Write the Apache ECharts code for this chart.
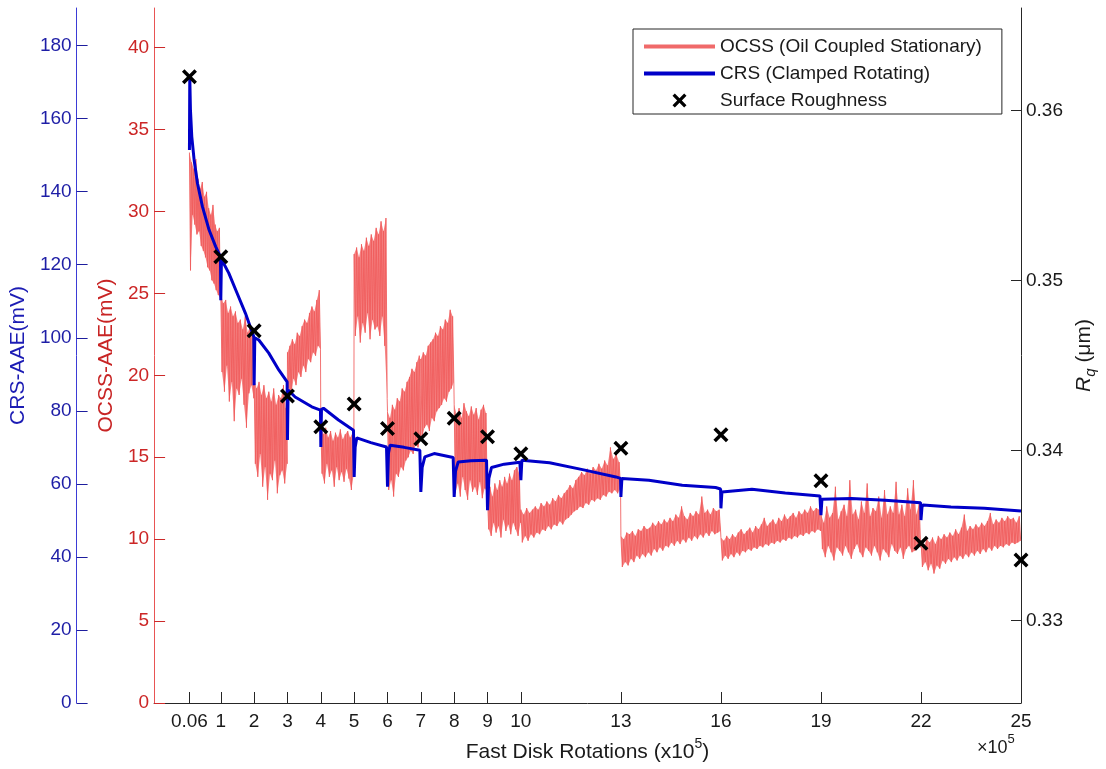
<!DOCTYPE html>
<html>
<head>
<meta charset="utf-8">
<script src="https://cdn.jsdelivr.net/npm/echarts@6/dist/echarts.min.js"></script>
<style>
  html, body { margin: 0; padding: 0; background: #fff; }
  #chart { width: 1106px; height: 769px; }
</style>
</head>
<body>
<div id="chart"></div>
<script>
// ---------- DATA ----------
const xTickValues = [0.06, 1, 2, 3, 4, 5, 6, 7, 8, 9, 10, 13, 16, 19, 22, 25];
const xTickLabels = ['0.06', '1', '2', '3', '4', '5', '6', '7', '8', '9', '10', '13', '16', '19', '22', '25'];
const crsTicks = [0, 20, 40, 60, 80, 100, 120, 140, 160, 180];
const ocssTicks = [0, 5, 10, 15, 20, 25, 30, 35, 40];
const rqTicks = [0.33, 0.34, 0.35, 0.36];

// Surface roughness Rq (um) at each measurement point
const rqX = [0.06, 1, 2, 3, 4, 5, 6, 7, 8, 9, 10, 13, 16, 19, 22, 25];
const rqY = [0.3620, 0.35141, 0.34706, 0.34322, 0.34141, 0.34274, 0.34131, 0.34071, 0.34191, 0.34082, 0.33982, 0.34014, 0.34094, 0.33824, 0.33455, 0.33357];

// CRS (clamped rotating) AAE, mV : [rotations x1e5, value]
const crsX = [0.06, 0.07, 0.09, 0.13, 0.2, 0.3, 0.45, 0.65, 0.85, 0.99,
  1.0, 1.02, 1.24, 1.49, 1.74, 1.99,
  2.0, 2.02, 2.14, 2.44, 2.74, 2.99,
  3.0, 3.02, 3.23, 3.73, 3.99,
  4.0, 4.02, 4.08, 4.53, 4.98,
  5.0, 5.03, 5.08, 5.5, 5.97,
  6.0, 6.03, 6.08, 6.5, 6.97,
  7.0, 7.04, 7.12, 7.4, 7.97,
  8.0, 8.04, 8.12, 8.5, 8.97,
  9.0, 9.04, 9.12, 9.5, 9.97,
  10.0, 10.03, 10.08, 10.86, 11.85, 12.85, 12.99,
  13.0, 13.03, 13.05, 13.84, 14.84, 15.84, 15.99,
  16.0, 16.03, 16.07, 16.93, 17.93, 18.97,
  19.0, 19.03, 19.08, 19.92, 20.92, 21.99,
  22.0, 22.03, 22.06, 22.9, 23.9, 25.0];
const crsY = [151.4, 171.4, 162.4, 155.1, 148.7, 142.3, 135.9, 129.5, 124.9, 122.2,
  110.3, 121.5, 117.7, 112.2, 106.7, 100.3,
  87.0, 100.0, 99.4, 95.8, 91.2, 87.9,
  72.0, 85.7, 83.8, 81.1, 80.2,
  70.1, 80.4, 80.7, 77.5, 74.7,
  61.9, 70.0, 72.6, 71.3, 70.1,
  59.2, 68.5, 70.6, 70.0, 69.2,
  57.8, 64.5, 67.4, 68.3, 67.2,
  56.4, 63.5, 66.0, 66.3, 66.5,
  52.8, 61.5, 64.5, 65.4, 65.9,
  61.0, 66.5, 67.0, 65.8, 63.9, 61.9, 61.5,
  56.4, 61.5, 61.8, 61.0, 59.6, 59.0, 58.6,
  53.3, 57.8, 58.3, 58.5, 57.5, 56.7,
  51.4, 55.8, 56.3, 56.0, 55.5, 54.8,
  50.1, 53.6, 54.2, 53.7, 53.3, 52.6];

// OCSS (oil coupled stationary) AAE, mV : noisy samples per test block (upper / lower excursions)
const ocssStart = [0.06, 1, 2, 3, 4, 5, 6, 7, 8, 9, 10, 13, 16, 19, 22];
const ocssEnd   = [0.99, 1.99, 2.99, 3.99, 4.99, 5.99, 6.99, 7.99, 8.99, 9.99, 12.99, 15.99, 18.99, 21.99, 24.99];
const ocssHi = [
  [33.6, 33.0, 32.6, 33.2, 32.0, 31.4, 31.8, 30.9, 31.2, 30.2, 29.8, 30.4, 29.2, 28.8, 29.0],
  [25.0, 24.4, 24.6, 23.8, 24.2, 23.6, 23.9, 23.2, 23.4, 22.8, 23.6, 22.6, 23.0, 22.4],
  [19.8, 19.2, 19.6, 18.8, 19.4, 18.6, 19.0, 18.4, 19.2, 18.2, 18.8, 18.6, 19.4, 18.0],
  [21.4, 21.8, 22.2, 21.9, 22.6, 22.4, 23.0, 23.4, 23.2, 23.8, 24.2, 23.9, 24.6, 25.2],
  [17.0, 16.4, 16.8, 16.2, 16.6, 16.0, 16.5, 16.2, 16.7, 16.1, 16.4, 16.6, 16.2, 16.5],
  [27.4, 27.8, 27.2, 28.0, 27.6, 28.4, 27.9, 28.6, 28.2, 29.0, 28.6, 29.4, 28.8, 29.6],
  [17.8, 17.4, 18.2, 17.9, 18.6, 18.4, 19.2, 19.0, 19.6, 19.9, 20.4, 20.2, 20.8, 21.2],
  [21.0, 21.4, 21.2, 21.8, 22.0, 22.2, 22.6, 22.4, 23.0, 22.8, 23.4, 23.2, 24.0, 23.6],
  [18.2, 17.6, 18.0, 17.4, 18.3, 17.8, 17.5, 18.1, 17.6, 18.0, 17.3, 17.9, 18.2, 17.7],
  [12.8, 13.2, 12.6, 13.4, 13.0, 13.6, 13.2, 13.8, 13.4, 14.0, 13.6, 14.2, 14.4, 14.0],
  [11.8, 11.5, 11.9, 11.6, 11.8, 12.0, 11.8, 12.2, 12.0, 12.3, 12.1, 12.5, 12.3, 12.7, 12.5, 12.8, 13.0, 13.3, 13.1, 13.6,
   13.8, 14.1, 13.9, 14.3, 14.0, 14.4, 14.2, 14.6, 14.3, 14.8, 14.5, 15.6, 14.9, 15.2, 14.7],
  [10.2, 10.0, 10.4, 10.3, 10.5, 10.2, 10.6, 10.5, 10.8, 10.6, 10.7, 11.0, 10.8, 11.1, 10.9, 11.2, 11.0, 11.3, 11.1, 11.5,
   11.3, 12.0, 11.4, 11.2, 11.6, 11.4, 11.7, 11.5, 12.6, 11.6, 11.8, 11.5, 11.9, 11.7, 11.8],
  [10.1, 9.9, 10.2, 10.0, 10.3, 10.1, 10.4, 10.6, 10.3, 10.5, 10.7, 10.4, 10.8, 10.6, 10.9, 11.3, 10.8, 11.0, 11.2, 10.9,
   11.3, 11.1, 11.5, 11.2, 11.4, 11.6, 11.3, 11.7, 11.5, 11.8, 11.6, 12.0, 11.7, 11.9, 11.8],
  [11.5, 11.0, 12.0, 11.3, 11.6, 13.2, 11.2, 11.7, 12.1, 11.4, 13.6, 11.5, 11.8, 11.2, 12.3, 11.6, 13.4, 11.4, 11.9, 11.7,
   12.6, 11.3, 13.0, 11.5, 12.0, 11.6, 13.5, 11.5, 12.1, 11.4, 13.1, 11.8, 13.6, 11.5, 12.2],
  [9.9, 9.6, 10.0, 9.8, 10.1, 9.7, 10.2, 10.0, 10.3, 10.1, 10.4, 10.2, 10.6, 10.3, 10.7, 11.5, 10.5, 10.8, 10.6, 10.9,
   10.7, 11.0, 10.8, 11.1, 11.6, 10.9, 11.2, 11.0, 11.3, 11.1, 11.4, 11.2, 11.3, 11.0, 11.4]
];
const ocssLo = [
  [26.4, 29.8, 29.2, 28.6, 28.8, 27.9, 27.6, 27.2, 26.6, 26.4, 25.8, 25.6, 25.2, 24.9, 24.7],
  [20.2, 19.0, 20.6, 18.4, 19.6, 17.2, 19.2, 18.8, 19.8, 18.2, 16.8, 18.9, 19.4, 18.6],
  [14.6, 13.8, 15.2, 13.2, 14.4, 12.4, 14.0, 13.6, 14.8, 12.8, 13.9, 14.2, 13.4, 14.6],
  [19.2, 18.8, 19.8, 19.4, 20.2, 19.9, 20.6, 20.2, 21.0, 20.8, 21.4, 21.2, 21.8, 21.6],
  [14.0, 13.4, 14.6, 13.8, 14.2, 13.2, 14.4, 13.6, 14.1, 13.5, 14.3, 13.7, 13.0, 14.0],
  [22.4, 23.6, 22.0, 23.2, 22.6, 23.8, 22.2, 23.4, 22.8, 23.0, 22.4, 23.6, 21.8, 18.6],
  [13.0, 13.6, 12.6, 14.0, 13.8, 14.4, 14.2, 14.8, 15.0, 15.4, 15.2, 15.8, 15.6, 16.2],
  [16.2, 16.8, 17.0, 16.6, 17.4, 17.2, 17.8, 18.0, 18.2, 18.6, 18.4, 19.0, 19.2, 19.6],
  [12.8, 13.4, 12.6, 13.8, 13.0, 12.4, 13.6, 12.9, 13.2, 12.7, 13.5, 12.5, 13.1, 12.9],
  [10.6, 10.2, 11.0, 10.4, 10.8, 10.1, 11.2, 10.5, 10.9, 10.3, 11.0, 10.6, 10.2, 11.0],
  [9.8, 10.2, 9.9, 10.3, 10.1, 10.4, 10.3, 10.6, 10.5, 10.8, 10.6, 10.9, 10.8, 11.1, 10.9, 11.2, 11.3, 11.5, 11.7, 11.8,
   12.0, 11.9, 12.2, 12.1, 12.4, 12.3, 12.5, 12.4, 12.7, 12.6, 12.9, 12.8, 13.0, 12.8, 13.1],
  [8.3, 8.6, 8.4, 8.8, 8.6, 9.0, 8.8, 9.1, 8.9, 9.2, 9.0, 9.4, 9.2, 9.5, 9.3, 9.6, 9.5, 9.8, 9.6, 9.9,
   9.7, 10.0, 9.8, 10.1, 9.9, 10.2, 10.0, 10.3, 10.1, 10.4, 10.2, 10.5, 10.3, 10.4, 10.5],
  [8.7, 9.0, 8.8, 9.1, 8.9, 9.2, 9.0, 9.3, 9.2, 9.4, 9.3, 9.5, 9.4, 9.6, 9.5, 9.7, 9.6, 9.8, 9.7, 9.9,
   9.8, 10.0, 9.9, 10.1, 10.0, 10.2, 10.1, 10.3, 10.2, 10.4, 10.3, 10.5, 10.4, 10.6, 10.5],
  [9.4, 8.9, 9.6, 9.2, 8.7, 9.5, 9.3, 9.0, 9.6, 9.2, 8.8, 9.4, 9.7, 9.2, 8.9, 9.5, 9.3, 9.0, 9.6, 9.2,
   8.7, 9.4, 9.2, 8.9, 9.7, 9.3, 9.1, 9.5, 8.8, 9.4, 9.6, 9.2, 9.3, 9.7, 9.5],
  [8.3, 8.6, 8.1, 8.5, 7.9, 8.4, 8.2, 8.7, 8.5, 8.8, 8.6, 8.9, 8.7, 9.0, 8.8, 9.1, 8.9, 9.2, 9.0, 9.3,
   9.1, 9.4, 9.2, 9.5, 9.3, 9.6, 9.4, 9.6, 9.5, 9.7, 9.6, 9.8, 9.7, 9.8, 9.9]
];

// ---------- BUILD ----------
const FONT = '"Liberation Sans", Arial, Helvetica, sans-serif';
function sampleX(s, k) {
  const n = ocssHi[s].length, a = ocssStart[s], b = ocssEnd[s];
  return a + (b - a) * k / (2 * n - 1);
}
const ocssData = [];
for (let s = 0; s < ocssStart.length; s++) {
  const hi = ocssHi[s], lo = ocssLo[s];
  for (let i = 0; i < hi.length; i++) {
    ocssData.push([sampleX(s, 2 * i), hi[i]]);
    ocssData.push([sampleX(s, 2 * i + 1), lo[i]]);
  }
}
const bandData = ocssStart.map((a, s) => [a, ocssHi[s][0], s]);
const crsData = crsX.map((x, i) => [x, crsY[i]]);
const rqData = rqX.map((x, i) => [x, rqY[i]]);

const crossPath = 'path://M0,2 L2,0 L6,4 L10,0 L12,2 L8,6 L12,10 L10,12 L6,8 L2,12 L0,10 L4,6 Z';

function renderBand(params, api) {
  const s = api.value(2);
  const hi = ocssHi[s], lo = ocssLo[s];
  const pts = [];
  for (let i = 0; i < hi.length; i++) pts.push(api.coord([sampleX(s, 2 * i), hi[i]]));
  for (let i = lo.length - 1; i >= 0; i--) pts.push(api.coord([sampleX(s, 2 * i + 1), lo[i]]));
  return {
    type: 'polygon', silent: true,
    shape: { points: pts },
    style: { fill: 'rgba(243,104,104,0.82)', stroke: null }
  };
}

const chart = echarts.init(document.getElementById('chart'), null, { renderer: 'canvas' });
const option = {
  backgroundColor: '#ffffff',
  animation: false,
  textStyle: { fontFamily: FONT },
  grid: { left: 151, right: 85, top: 8, bottom: 66, containLabel: false },
  legend: {
    orient: 'vertical',
    left: 633, top: 29,
    padding: [7, 20, 3, 9],
    itemGap: 6,
    itemWidth: 71,
    itemHeight: 14,
    backgroundColor: '#ffffff',
    borderColor: '#262626',
    borderWidth: 1,
    borderRadius: 0,
    textStyle: { fontSize: 19, color: '#1a1a1a', fontFamily: FONT, lineHeight: 21 },
    data: [
      { name: 'OCSS (Oil Coupled Stationary)', itemStyle: { opacity: 0 }, lineStyle: { width: 4, color: '#F06A6A', opacity: 1 } },
      { name: 'CRS (Clamped Rotating)', itemStyle: { opacity: 0 }, lineStyle: { width: 4, color: '#0000C8', opacity: 1 } },
      { name: 'Surface Roughness' }
    ]
  },
  xAxis: {
    type: 'value', min: -1, max: 25,
    axisLine: { show: true, onZero: false, lineStyle: { color: '#262626', width: 1 } },
    axisTick: { show: true, inside: true, length: 11, customValues: xTickValues, lineStyle: { color: '#262626' } },
    axisLabel: {
      customValues: xTickValues, margin: 9, fontSize: 19, color: '#1a1a1a', fontFamily: FONT,
      formatter: v => { const i = xTickValues.indexOf(v); return i >= 0 ? xTickLabels[i] : ''; }
    },
    splitLine: { show: false },
    name: '{t|Fast Disk Rotations (x10}{s|5}{t|)}',
    nameLocation: 'middle', nameGap: 34,
    nameTextStyle: {
      color: '#1a1a1a', fontFamily: FONT,
      rich: {
        t: { fontSize: 21, lineHeight: 26, verticalAlign: 'bottom', color: '#1a1a1a', fontFamily: FONT },
        s: { fontSize: 14, lineHeight: 14, verticalAlign: 'top', color: '#1a1a1a', fontFamily: FONT }
      }
    }
  },
  yAxis: [
    {
      type: 'value', position: 'left', offset: 77.5, min: 0, max: 190.3,
      axisLine: { show: true, onZero: false, lineStyle: { color: '#3b3bd6', width: 1 } },
      axisTick: { show: true, inside: true, length: 11, customValues: crsTicks, lineStyle: { color: '#1e1e9e' } },
      axisLabel: { customValues: crsTicks, margin: 5, fontSize: 19, color: '#1e1ea6', fontFamily: FONT },
      splitLine: { show: false },
      name: 'CRS-AAE(mV)', nameLocation: 'middle', nameGap: 33,
      nameTextStyle: { fontSize: 21, color: '#1c1cb4', fontFamily: FONT }
    },
    {
      type: 'value', position: 'left', offset: 0, min: 0, max: 42.42,
      axisLine: { show: true, onZero: false, lineStyle: { color: '#e85454', width: 1 } },
      axisTick: { show: true, inside: true, length: 11, customValues: ocssTicks, lineStyle: { color: '#cc2a2a' } },
      axisLabel: { customValues: ocssTicks, margin: 5, fontSize: 19, color: '#cc2626', fontFamily: FONT },
      splitLine: { show: false },
      name: 'OCSS-AAE(mV)', nameLocation: 'middle', nameGap: 24,
      nameTextStyle: { fontSize: 21, color: '#c82424', fontFamily: FONT }
    },
    {
      type: 'value', position: 'right', offset: 0, min: 0.32516, max: 0.36604,
      axisLine: { show: true, onZero: false, lineStyle: { color: '#262626', width: 1 } },
      axisTick: { show: true, inside: true, length: 10, customValues: rqTicks, lineStyle: { color: '#262626' } },
      axisLabel: { customValues: rqTicks, margin: 5, fontSize: 19, color: '#1a1a1a', fontFamily: FONT,
        formatter: v => v.toFixed(2) },
      splitLine: { show: false },
      name: '{r|R}{q|q}{t| (μm)}', nameLocation: 'middle', nameGap: 44,
      nameTextStyle: {
        color: '#1a1a1a', fontFamily: FONT,
        rich: {
          r: { fontSize: 21, fontStyle: 'italic', lineHeight: 24, verticalAlign: 'top', color: '#1a1a1a', fontFamily: FONT },
          q: { fontSize: 15, fontStyle: 'italic', lineHeight: 15, verticalAlign: 'bottom', color: '#1a1a1a', fontFamily: FONT },
          t: { fontSize: 21, lineHeight: 24, verticalAlign: 'top', color: '#1a1a1a', fontFamily: FONT }
        }
      }
    }
  ],
  series: [
    {
      name: 'OCSS band', type: 'custom', xAxisIndex: 0, yAxisIndex: 1,
      data: bandData, renderItem: renderBand, clip: true, silent: true,
      encode: { x: 0, y: 1 },
      z: 1
    },
    {
      name: 'OCSS (Oil Coupled Stationary)', type: 'line', xAxisIndex: 0, yAxisIndex: 1,
      data: ocssData, symbol: 'none', showSymbol: false, smooth: false,
      lineStyle: { color: '#F05C5C', width: 1, opacity: 0.85 },
      itemStyle: { color: '#F06A6A' },
      z: 2
    },
    {
      name: 'CRS (Clamped Rotating)', type: 'line', xAxisIndex: 0, yAxisIndex: 0,
      data: crsData, symbol: 'none', showSymbol: false, smooth: false,
      lineStyle: { color: '#0000C8', width: 3 },
      itemStyle: { color: '#0000C8' },
      z: 3
    },
    {
      name: 'Surface Roughness', type: 'scatter', xAxisIndex: 0, yAxisIndex: 2,
      data: rqData, symbol: crossPath, symbolSize: 15, symbolKeepAspect: true,
      itemStyle: { color: '#000000', opacity: 1 },
      z: 4
    }
  ],
  graphic: [
    {
      type: 'text', left: 977, top: 733, z: 10,
      style: {
        text: '{a|×10}{b|5}',
        rich: {
          a: { fontSize: 18, lineHeight: 24, verticalAlign: 'bottom', fill: '#1a1a1a', fontFamily: FONT },
          b: { fontSize: 13, lineHeight: 13, verticalAlign: 'top', fill: '#1a1a1a', fontFamily: FONT }
        }
      }
    }
  ]
};
chart.setOption(option);
</script>
</body>
</html>
